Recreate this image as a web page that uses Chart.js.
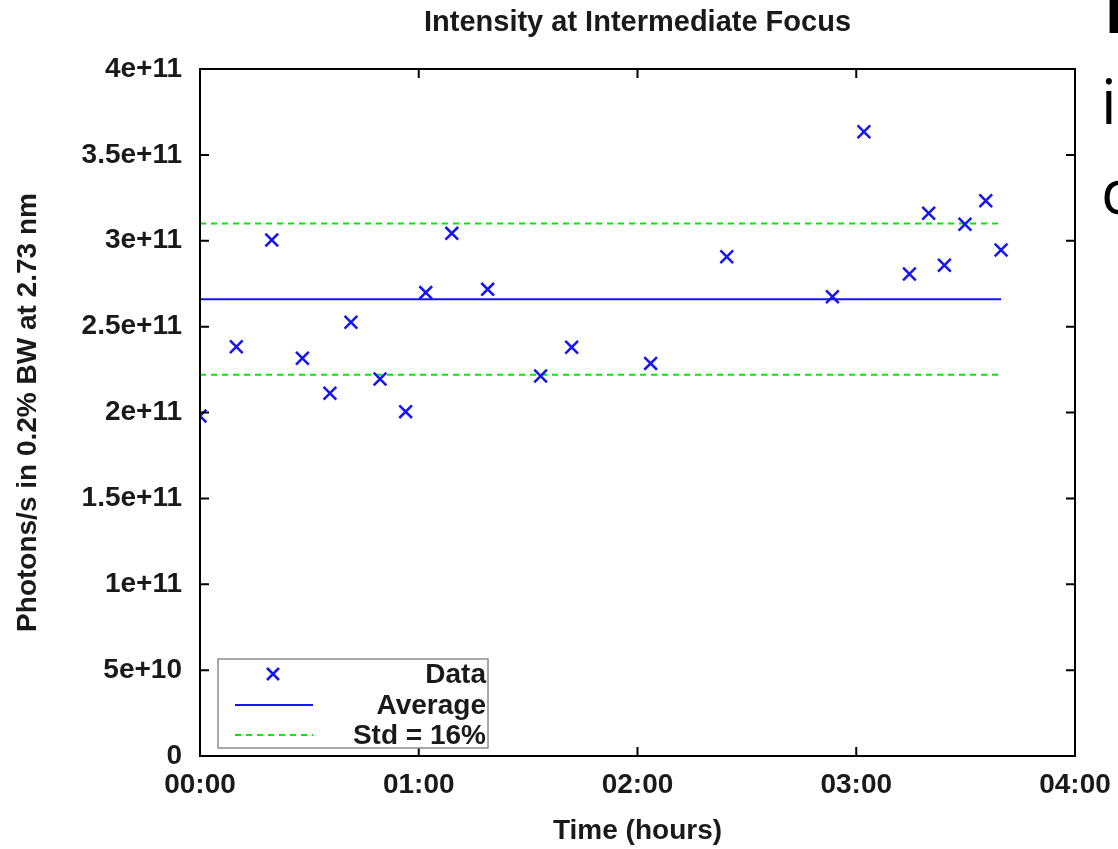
<!DOCTYPE html>
<html>
<head>
<meta charset="utf-8">
<script src="https://cdn.jsdelivr.net/npm/chart.js@4/dist/chart.umd.min.js"></script>
<style>
  html, body { margin: 0; padding: 0; background: #fff; overflow: hidden; }
  #wrap { position: relative; width: 1118px; height: 849px; }
  .slide { position: absolute; font-family: 'Open Sans', 'Liberation Sans', sans-serif; color: #000; white-space: nowrap; }
</style>
</head>
<body>
<div id="wrap">
  <canvas id="chart" width="1118" height="849"></canvas>
  <div class="slide" style="left:1104px; top:-33px; font-size:62px; font-weight:bold;">I</div>
  <div class="slide" style="left:1101px; top:58px; font-size:62px;">in</div>
  <div class="slide" style="left:1101px; top:148px; font-size:62px;">c</div>
</div>
<script>
// measured run times (hours) and photon rates
const timeHours = [0.000, 0.166, 0.328, 0.468, 0.594, 0.690, 0.823, 0.940, 1.032, 1.151, 1.315, 1.557,
  1.699, 2.060, 2.408, 2.891, 3.035, 3.243, 3.331, 3.403, 3.497, 3.592, 3.662];
const photons = [1.98e11, 2.383e11, 3.004e11, 2.316e11, 2.112e11, 2.525e11, 2.195e11, 2.005e11, 2.698e11, 3.043e11, 2.717e11, 2.213e11,
  2.38e11, 2.286e11, 2.907e11, 2.674e11, 3.635e11, 2.806e11, 3.16e11, 2.857e11, 3.096e11, 3.233e11, 2.946e11];

const average = 2.66e11;
const stdLow = 2.22e11;
const stdHigh = 3.10e11;
const lineRange = [0, 3.662];

const yTicks = [0, 5e10, 1e11, 1.5e11, 2e11, 2.5e11, 3e11, 3.5e11, 4e11];
const xTicks = [0, 1, 2, 3, 4];
const legendLabels = ['Data', 'Average', 'Std = 16%'];
const chartTitle = 'Intensity at Intermediate Focus';

const FONT = "'Liberation Sans', Arial, sans-serif";
const TEXT = '#1a1a1a';
const BLUE = 'rgb(20,20,245)';
const GREEN = 'rgb(0,235,0)';

function fmtY(v) {
    if (v === 0) return '0';
    const exp = Math.floor(Math.log10(v) + 1e-9);
    const m = +(v / Math.pow(10, exp)).toFixed(2);
    return m + 'e+' + exp;
}
function fmtX(h) {
    return String(h).padStart(2, '0') + ':00';
}

const frame = {
    id: 'frame',
    afterDraw(chart) {
        const { ctx, chartArea: a, scales } = chart;
        ctx.save();
        // title centred over the plot box, like gnuplot does
        ctx.font = 'bold 29px ' + FONT;
        ctx.fillStyle = TEXT;
        ctx.textAlign = 'center';
        ctx.textBaseline = 'middle';
        ctx.fillText(chartTitle, (a.left + a.right) / 2, 23);

        ctx.strokeStyle = '#000';
        ctx.lineWidth = 2;
        ctx.strokeRect(a.left, a.top, a.right - a.left, a.bottom - a.top);
        ctx.beginPath();
        yTicks.forEach(v => {
            const y = scales.y.getPixelForValue(v);
            ctx.moveTo(a.left, y); ctx.lineTo(a.left + 9, y);
            ctx.moveTo(a.right, y); ctx.lineTo(a.right - 9, y);
        });
        xTicks.forEach(v => {
            const x = scales.x.getPixelForValue(v);
            ctx.moveTo(x, a.bottom); ctx.lineTo(x, a.bottom - 9);
            ctx.moveTo(x, a.top); ctx.lineTo(x, a.top + 9);
        });
        ctx.stroke();

        // legend box, bottom left inside the plot
        const bx = a.left + 18, by = a.bottom - 97, bw = 270, bh = 89;
        ctx.fillStyle = '#fff';
        ctx.fillRect(bx, by, bw, bh);
        ctx.strokeStyle = '#8c8c8c';
        ctx.lineWidth = 1.5;
        ctx.strokeRect(bx, by, bw, bh);
        ctx.font = 'bold 28px ' + FONT;
        ctx.fillStyle = TEXT;
        ctx.textAlign = 'right';
        const rows = [by + 15, by + 46, by + 76];
        legendLabels.forEach((t, i) => ctx.fillText(t, bx + bw - 2, rows[i] + 1));
        const sx0 = bx + 17, sx1 = bx + 95;
        ctx.strokeStyle = BLUE;
        ctx.lineWidth = 2.5;
        ctx.beginPath();
        const cx = bx + 55, cy = rows[0], r = 6;
        ctx.moveTo(cx - r, cy - r); ctx.lineTo(cx + r, cy + r);
        ctx.moveTo(cx + r, cy - r); ctx.lineTo(cx - r, cy + r);
        ctx.stroke();
        ctx.lineWidth = 2;
        ctx.beginPath();
        ctx.moveTo(sx0, rows[1]); ctx.lineTo(sx1, rows[1]);
        ctx.stroke();
        ctx.strokeStyle = GREEN;
        ctx.setLineDash([6, 5]);
        ctx.beginPath();
        ctx.moveTo(sx0, rows[2]); ctx.lineTo(sx1, rows[2]);
        ctx.stroke();
        ctx.restore();
    }
};

const flatLine = (v) => lineRange.map(x => ({ x: x, y: v }));

new Chart(document.getElementById('chart'), {
    type: 'scatter',
    data: {
        datasets: [
            {
                label: 'Data',
                data: timeHours.map((t, i) => ({ x: t, y: photons[i] })),
                pointStyle: 'crossRot',
                pointRadius: 9,
                pointBorderWidth: 2.5,
                borderColor: BLUE,
                backgroundColor: BLUE
            },
            {
                label: 'Average',
                type: 'line',
                data: flatLine(average),
                borderColor: BLUE,
                borderWidth: 2,
                pointRadius: 0
            },
            {
                label: 'Std = 16%',
                type: 'line',
                data: flatLine(stdHigh),
                borderColor: GREEN,
                borderWidth: 2,
                borderDash: [6, 5],
                pointRadius: 0
            },
            {
                label: 'Std low',
                type: 'line',
                data: flatLine(stdLow),
                borderColor: GREEN,
                borderWidth: 2,
                borderDash: [6, 5],
                pointRadius: 0
            }
        ]
    },
    options: {
        responsive: false,
        animation: false,
        layout: { padding: { left: 0, right: 43, top: 69, bottom: 0 } },
        plugins: {
            legend: { display: false },
            tooltip: { enabled: false },
            title: { display: false }
        },
        scales: {
            x: {
                type: 'linear',
                min: 0,
                max: 4,
                afterBuildTicks: (s) => { s.ticks = xTicks.map(v => ({ value: v })); },
                afterFit: (s) => { s.height = 93; s.paddingLeft = 0; s.paddingRight = 0; },
                grid: { display: false, drawTicks: false },
                border: { display: false },
                ticks: {
                    padding: 12,
                    color: TEXT,
                    font: { family: FONT, size: 28, weight: 'bold' },
                    callback: (v) => fmtX(v)
                },
                title: {
                    display: true,
                    text: 'Time (hours)',
                    color: TEXT,
                    font: { family: FONT, size: 28, weight: 'bold' },
                    padding: { top: 4, bottom: 1 }
                }
            },
            y: {
                min: 0,
                max: 4e11,
                afterBuildTicks: (s) => { s.ticks = yTicks.map(v => ({ value: v })); },
                afterFit: (s) => { s.width = 200; },
                grid: { display: false, drawTicks: false },
                border: { display: false },
                ticks: {
                    padding: 18,
                    color: TEXT,
                    font: { family: FONT, size: 28, weight: 'bold' },
                    callback: (v) => fmtY(v)
                },
                title: {
                    display: true,
                    text: 'Photons/s in 0.2% BW at 2.73 nm',
                    color: TEXT,
                    font: { family: FONT, size: 28, weight: 'bold' },
                    padding: { top: 11, bottom: 0 }
                }
            }
        }
    },
    plugins: [frame]
});
</script>
</body>
</html>
